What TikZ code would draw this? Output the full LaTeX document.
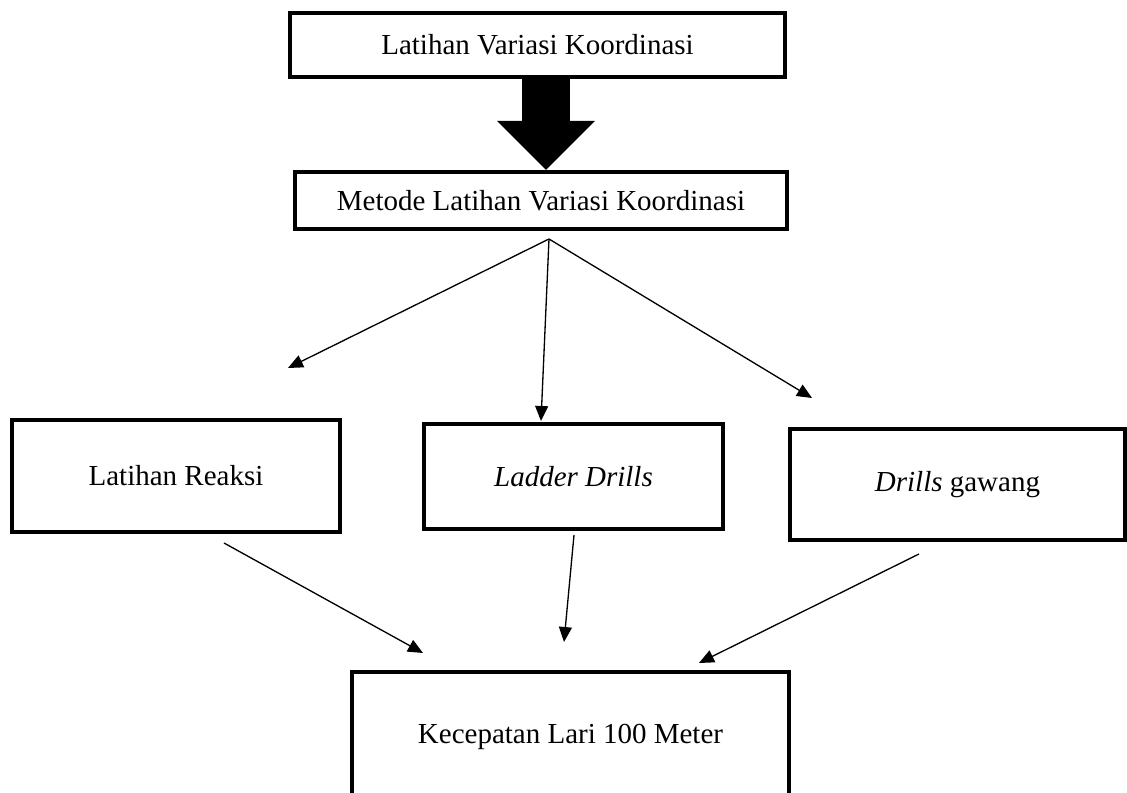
\documentclass[tikz,border=0pt]{standalone}
\usepackage{fontspec}
\setmainfont{Liberation Serif}
\usetikzlibrary{positioning, arrows.meta}

\begin{document}
\begin{tikzpicture}[x=0.02cm, y=-0.02cm,
  box/.style={draw, line width=2.5pt, inner sep=0pt, align=center, font=\fontsize{16.5}{20}\selectfont},
  arr/.style={-{Triangle[length=0.3cm, width=0.26cm]}, line width=0.75pt},
  bigarr/.style={-{Triangle[length=0.98cm, width=1.96cm, line width=0pt]}, line width=0.96cm},
]
\useasboundingbox (0,0) rectangle (1127,793);
\clip (0,0) rectangle (1127,793);

% --- Top boxes ---
\node[box, minimum width=9.9cm, minimum height=1.28cm] (latvar) at (537.5,45) {Latihan Variasi Koordinasi};
\node[box, minimum width=9.84cm, minimum height=1.14cm] (metode) at (541,200.5) {Metode Latihan Variasi Koordinasi};
\draw[bigarr] ([xshift=0.17cm]latvar.south) -- ([xshift=0.1cm]metode.north);

% --- Methods ---
\node[box, minimum width=6.56cm, minimum height=2.24cm] (reaksi) at (176,476) {Latihan Reaksi};
\node[box, minimum width=5.98cm, minimum height=2.1cm] (ladder) at (573.5,476.5) {\textit{Ladder Drills}};
\node[box, minimum width=6.7cm, minimum height=2.22cm] (gawang) at (957.5,484.5) {\textit{Drills} gawang};

% --- Result ---
\node[box, minimum width=8.74cm, minimum height=2.6cm] (lari) at (570.5,737) {Kecepatan Lari 100 Meter};

% --- Arrows to methods ---
\coordinate (src) at (549,239);
\coordinate (toReaksi) at (288,368);
\coordinate (toLadder) at (541,421);
\coordinate (toGawang) at (812,398);
\foreach \t in {toReaksi, toLadder, toGawang} { \draw[arr] (src) -- (\t); }

% --- Arrows to result ---
\coordinate (fromReaksi) at (224,543);
\coordinate (fromLadder) at (574,535);
\coordinate (fromGawang) at (919,554);
\coordinate (inReaksi) at (423,653);
\coordinate (inLadder) at (564,642);
\coordinate (inGawang) at (699,663);
\draw[arr] (fromReaksi) -- (inReaksi);
\draw[arr] (fromLadder) -- (inLadder);
\draw[arr] (fromGawang) -- (inGawang);

\end{tikzpicture}
\end{document}
